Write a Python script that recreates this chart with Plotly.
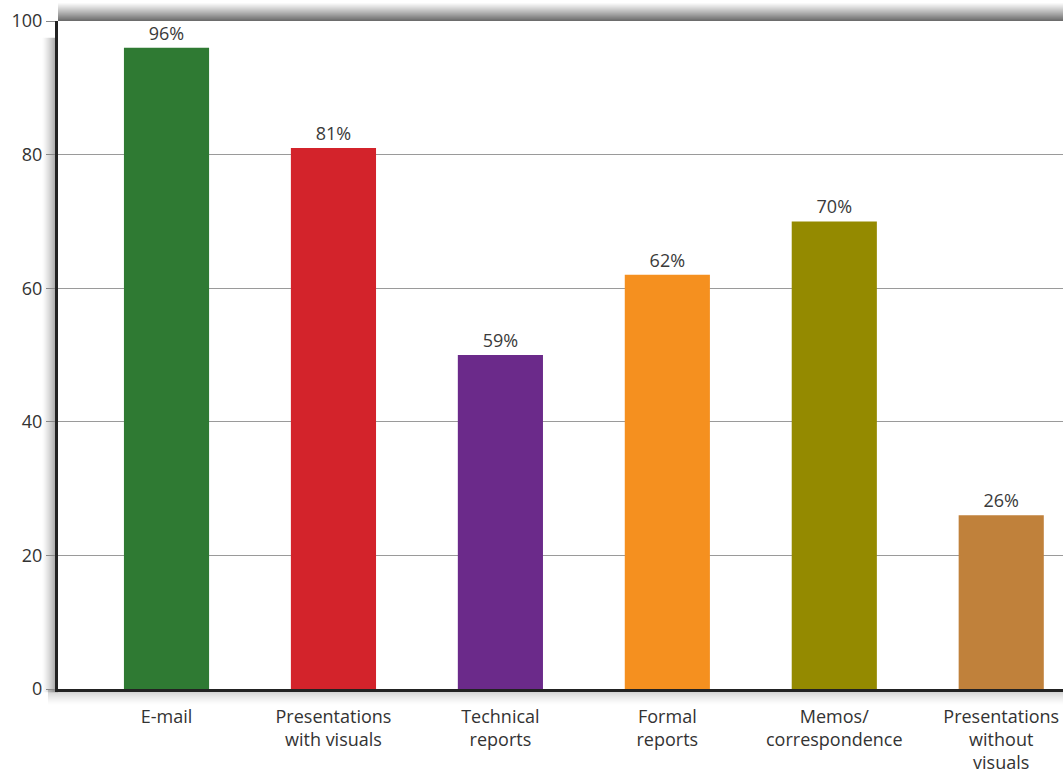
import plotly.graph_objs as go

categories = ["E-mail", "Presentations<br>with visuals", "Technical<br>reports",
              "Formal<br>reports", "Memos/<br>correspondence", "Presentations<br>without<br>visuals"]
bar_values = [96, 81, 50, 62, 70, 26]
bar_labels = ["96%", "81%", "59%", "62%", "70%", "26%"]
bar_colors = ["#2f7a33", "#d3232b", "#6b2a8a", "#f5901f", "#948a00", "#c0813b"]
y_ticks = [0, 20, 40, 60, 80, 100]

fig = go.Figure()
fig.add_trace(go.Bar(
    x=list(range(len(categories))),
    y=bar_values,
    width=0.51,
    marker=dict(color=bar_colors, line=dict(width=0)),
    text=bar_labels,
    textposition="outside",
    textfont=dict(size=18, color="#3a3a3a"),
    cliponaxis=False,
))

# soft shadow along the top, left and bottom of the frame (1px strips)
px_y = 1 / 668
px_x = 1 / 1005
shadow = []
top_n = 18
for k in range(top_n):
    # k = 0 is the strip right above the frame
    a = 0.75 * (1 - k / top_n) ** 1.1
    shadow.append(dict(type="rect", xref="paper", yref="paper", x0=0, x1=1.0,
                       y0=1 + k * px_y, y1=1 + (k + 1) * px_y,
                       fillcolor=f"rgba(60,60,60,{a:.3f})", line=dict(width=0), layer="below"))
side_n = 16
for k in range(side_n):
    a = 0.6 * (1 - k / side_n) ** 1.4
    shadow.append(dict(type="rect", xref="paper", yref="paper",
                       x0=-(k + 1) * px_x, x1=-k * px_x, y0=-0.005, y1=0.975,
                       fillcolor=f"rgba(80,80,80,{a:.3f})", line=dict(width=0), layer="below"))
    shadow.append(dict(type="rect", xref="paper", yref="paper", x0=-0.01, x1=1.0,
                       y0=-(k + 1) * px_y, y1=-k * px_y,
                       fillcolor=f"rgba(100,100,100,{a * 0.6:.3f})", line=dict(width=0), layer="below"))

fig.update_layout(
    width=1063,
    height=774,
    margin=dict(l=58, r=0, t=21, b=85),
    paper_bgcolor="white",
    plot_bgcolor="white",
    showlegend=False,
    font=dict(family="Open Sans, Lato, sans-serif", color="#333333"),
    shapes=shadow,
    xaxis=dict(
        range=[-0.65, 5.37],
        tickmode="array",
        tickvals=list(range(len(categories))),
        ticktext=categories,
        tickfont=dict(size=18, color="#333333"),
        ticklabelstandoff=9,
        showgrid=False,
        showline=True,
        linecolor="#222222",
        linewidth=3,
        ticks="",
        zeroline=False,
    ),
    yaxis=dict(
        range=[0, 100],
        tickmode="array",
        tickvals=y_ticks,
        tickfont=dict(size=18, color="#333333"),
        showgrid=True,
        gridcolor="#9a9a9a",
        gridwidth=1,
        showline=True,
        linecolor="#222222",
        linewidth=3,
        ticks="outside",
        ticklen=9,
        tickcolor="#888888",
        zeroline=False,
    ),
)

fig.write_html("out.html", config={"displayModeBar": False},
               post_script="document.body.style.margin='0';document.body.style.overflow='hidden';")
